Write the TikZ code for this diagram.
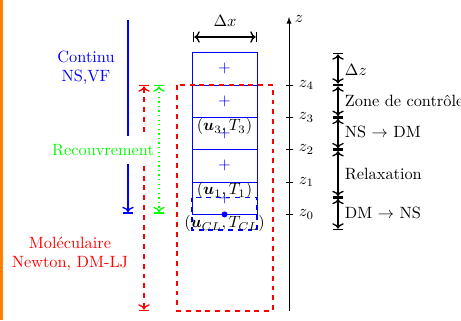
\documentclass[tikz,border=0pt]{standalone}
\usepackage{bm}
\usetikzlibrary{arrows.meta}
\begin{document}
\begin{tikzpicture}[x=0.613pt,y=-0.613pt,
  cell/.style={draw=blue,semithick},
  dimarrow/.style={thick,|<->|},
  zlab/.style={anchor=west,inner sep=1pt},
  rlab/.style={anchor=west,inner sep=1pt},
  plus/.style={blue,inner sep=0pt}]
\useasboundingbox (0,0) rectangle (461,320);
\fill[orange] (0,0) rectangle (3,320);
% cells
\foreach \i/\a/\b in {1/52.7/85,2/85/117.4,3/117.4/149.7,4/149.7/182,5/182/214.4}{
  \draw[cell] (192,\a) rectangle (257,\b);
  \node[plus] (p\i) at (224.5,{(\a+\b)/2}) {$+$};
}
% blue dashed CL box
\draw[blue,very thick,dashed] (192,197.5) rectangle (257,230);
\fill[blue] (224.5,214.4) circle (3);
\node[anchor=north,inner sep=1pt] (l3) at (224.5,116.5) {$(\bm{u}_3,T_3)$};
\node[anchor=north,inner sep=1pt] (l1) at (224.5,180.5) {$(\bm{u}_1,T_1)$};
\node[anchor=north,inner sep=1pt] (lcl) at (224.5,213.5) {$(\bm{u}_{CL},T_{CL})$};
% red dashed domain
\draw[red,thick,dashed] (177,85) rectangle (273,311);
% delta x
\coordinate (dxa) at (193,37);
\coordinate (dxb) at (257,37);
\draw[dimarrow] (dxa) -- (dxb);
\node (dx) at (225,21) {$\Delta x$};
% z axis
\coordinate (zb) at (289,311);
\coordinate (zt) at (289,17);
\draw[-latex] (zb) -- (zt);
\node[anchor=west,inner sep=1pt] (zl) at (293,19) {$z$};
\foreach \k/\y in {4/85,3/117.4,2/149.7,1/182,0/214.4}{
  \draw (285.5,\y) -- (293,\y);
  \node[zlab] (z\k) at (297,\y) {$z_{\k}$};
}
% right dimension arrows
\coordinate (r0) at (338,53);
\coordinate (r1) at (338,85);
\coordinate (r2) at (338,117.4);
\coordinate (r3) at (338,149.7);
\coordinate (r4) at (338,197.5);
\coordinate (r5) at (338,230);
\draw[dimarrow] (r0) -- (r1);
\draw[dimarrow] (r1) -- (r2);
\draw[dimarrow] (r2) -- (r3);
\draw[dimarrow] (r3) -- (r4);
\draw[dimarrow] (r4) -- (r5);
\node[rlab] (t0) at (343,70) {$\Delta z$};
\node[rlab] (t1) at (343,101) {Zone de contrôle};
\node[rlab] (t2) at (343,132) {NS $\rightarrow$ DM};
\node[rlab] (t3) at (343,174) {Relaxation};
\node[rlab] (t4) at (343,213) {DM $\rightarrow$ NS};
% left arrows
\coordinate (ba) at (128,20);
\coordinate (bb) at (128,213.5);
\draw[blue,thick,->|] (ba) -- (bb);
\coordinate (ra) at (144,85);
\coordinate (rb) at (144,311);
\draw[red,thick,dashed,|<->|] (ra) -- (rb);
\coordinate (ga) at (159,85);
\coordinate (gb) at (159,213.5);
\draw[green,thick,dotted,|<->|] (ga) -- (gb);
\node[green,fill=white,inner xsep=2pt,inner ysep=5pt] (rec) at (103,150) {Recouvrement};
\node[blue,align=center] (cont) at (86,68) {Continu\\NS,VF};
\node[red,align=center] (mol) at (70,254) {Moléculaire\\Newton, DM-LJ};
\end{tikzpicture}
\end{document}
